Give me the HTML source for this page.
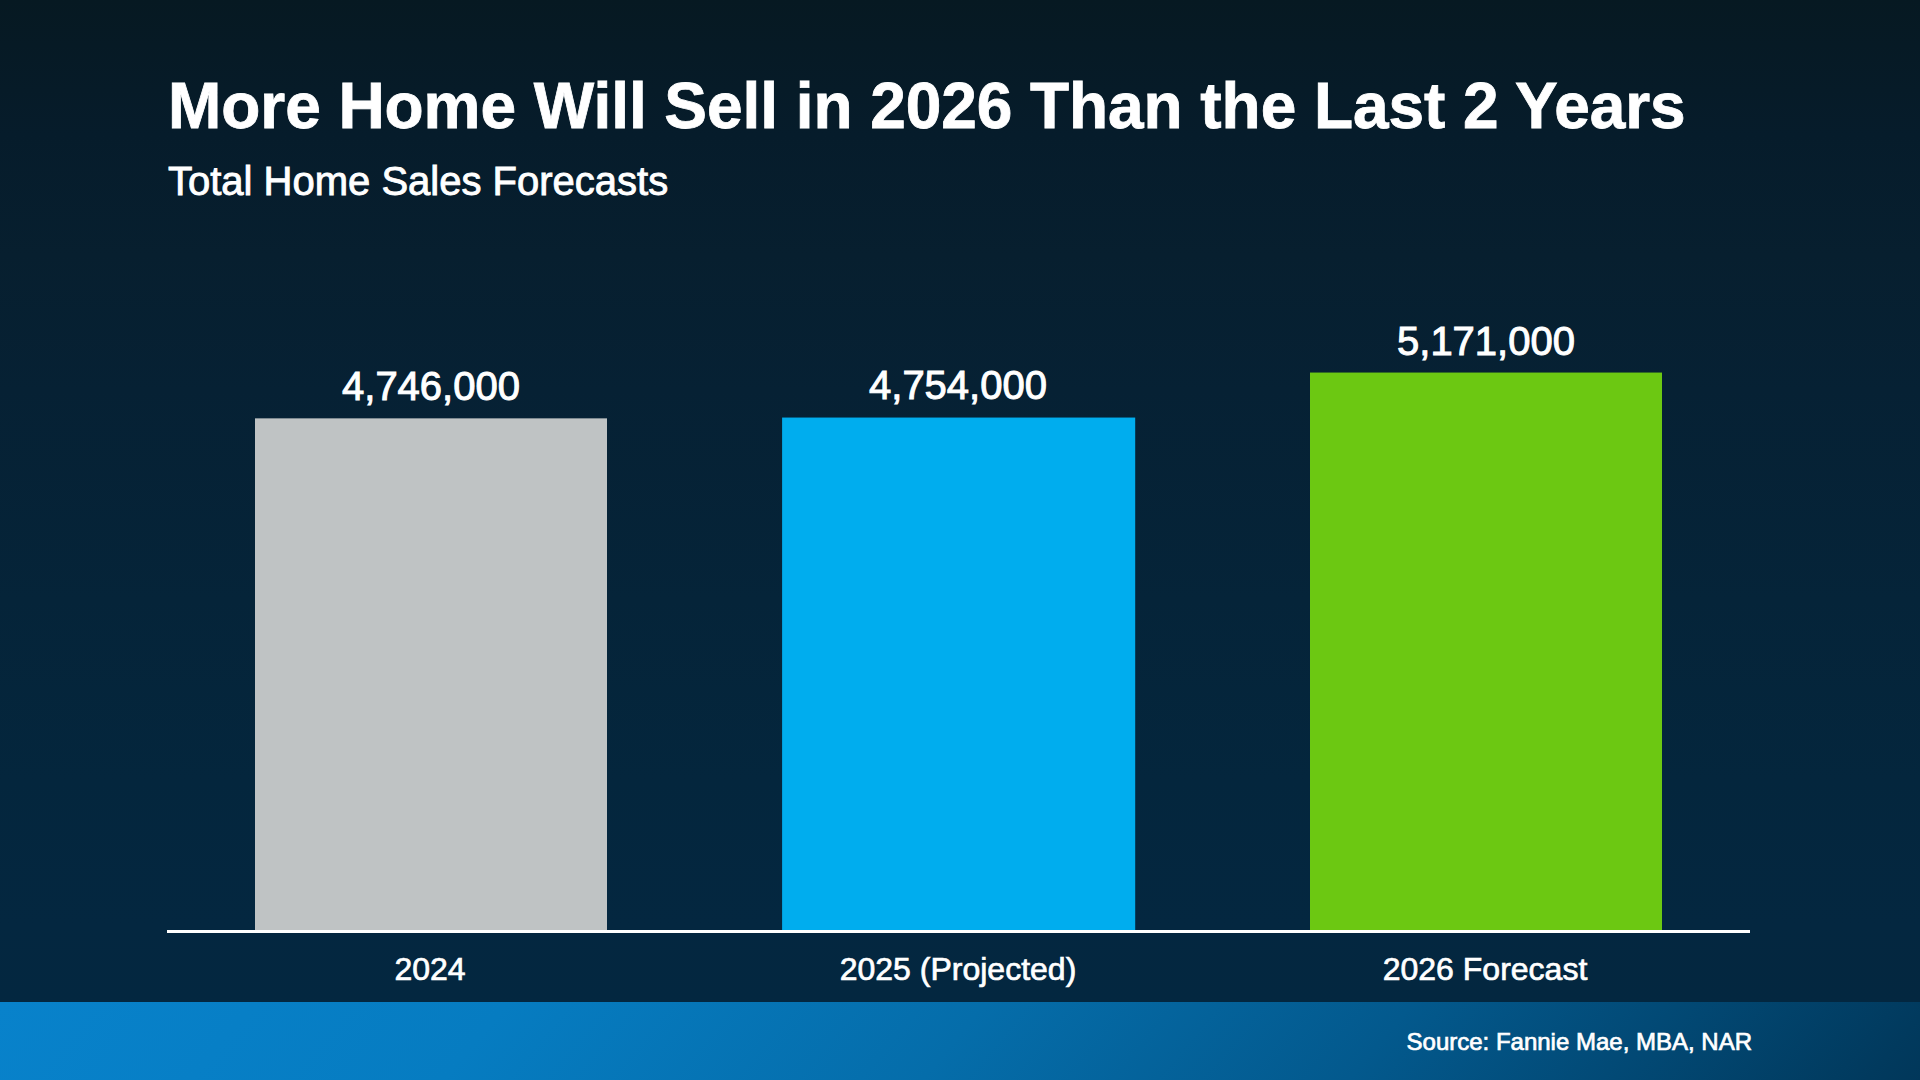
<!DOCTYPE html>
<html lang="en">
<head>
<meta charset="utf-8">
<title>More Home Will Sell in 2026 Than the Last 2 Years</title>
<style>
  html, body { margin: 0; padding: 0; }
  body {
    width: 1920px; height: 1080px; overflow: hidden; position: relative;
    font-family: "Liberation Sans", Arial, Helvetica, sans-serif;
    color: #ffffff;
    background: linear-gradient(to bottom,
      #061922 0px, #061c2b 135px, #071f2f 255px, #062134 390px,
      #052439 600px, #04263d 780px, #042740 925px, #032740 1002px);
  }
  .abs { position: absolute; white-space: nowrap; line-height: 1; }
  #title { left: 168px; top: 74px; font-size: 64px; font-weight: 700; letter-spacing: -0.06px; -webkit-text-stroke: 0.8px #fff; }
  #subtitle { left: 168px; top: 161px; font-size: 40px; -webkit-text-stroke: 0.9px #fff; }
  #chart { position: absolute; left: 0; top: 0; width: 1920px; height: 1002px; }
  .val { font-size: 40px; text-align: center; width: 352px; -webkit-text-stroke: 1px #fff; }
  #val1 { left: 255px; top: 366px; }
  #val2 { left: 782px; top: 365px; }
  #val3 { left: 1310px; top: 321px; }
  .lab { font-size: 32px; text-align: center; width: 352px; -webkit-text-stroke: 0.7px #fff; }
  #lab1 { left: 254px; top: 953px; }
  #lab2 { left: 782px; top: 953px; }
  #lab3 { left: 1309px; top: 953px; }
  #footer {
    position: absolute; left: 0; top: 1002px; width: 1920px; height: 78px;
    background: linear-gradient(130deg, #0882cb 0%, #067cc1 25.6%, #056daa 49.7%, #03598d 71.2%, #013a5e 97.3%, #01375a 100%);
  }
  #source { right: 168px; top: 1030px; font-size: 24px; -webkit-text-stroke: 0.7px #fff; }
</style>
</head>
<body>
  <div id="title" class="abs">More Home Will Sell in 2026 Than the Last 2 Years</div>
  <div id="subtitle" class="abs">Total Home Sales Forecasts</div>

  <svg id="chart" width="1920" height="1002" viewBox="0 0 1920 1002">
    <rect x="255" y="418.35" width="352" height="512" fill="#bfc3c4"/>
    <rect x="782.1" y="417.55" width="353.1" height="513" fill="#00adee"/>
    <rect x="1310" y="372.55" width="352" height="558" fill="#6cc812"/>
    <rect x="167" y="930" width="1583" height="3" fill="#ffffff"/>
  </svg>

  <div id="val1" class="abs val">4,746,000</div>
  <div id="val2" class="abs val">4,754,000</div>
  <div id="val3" class="abs val">5,171,000</div>

  <div id="lab1" class="abs lab">2024</div>
  <div id="lab2" class="abs lab">2025 (Projected)</div>
  <div id="lab3" class="abs lab">2026 Forecast</div>

  <div id="footer"></div>
  <div id="source" class="abs">Source: Fannie Mae, MBA, NAR</div>
</body>
</html>
